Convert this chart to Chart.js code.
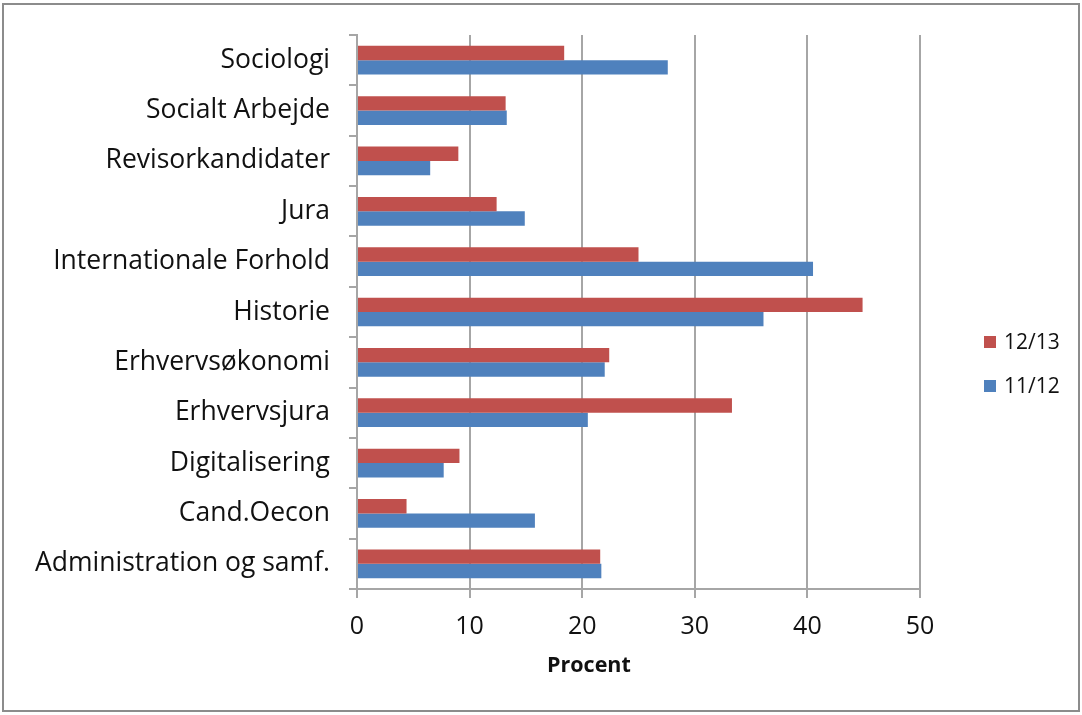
<!DOCTYPE html>
<html>
<head>
<meta charset="utf-8">
<script src="https://cdn.jsdelivr.net/npm/chart.js@4"></script>
<style>
  body { margin: 0; background: #fff; }
  #wrap { position: relative; width: 1082px; height: 715px; }
  #frame { position: absolute; left: 2px; top: 3px; width: 1078px; height: 709px; border: 2px solid #8c8c8c; box-sizing: border-box; pointer-events: none; }
  canvas { position: absolute; left: 0; top: 0; }
  .lbl { position: absolute; font-family: "Open Sans", sans-serif; color: #111; white-space: nowrap; }
  #akse { left: 547px; top: 650px; font-size: 21.5px; font-weight: bold; line-height: 28px; }
  .leg { font-size: 21px; line-height: 28px; }
  .leg span { display: inline-block; width: 12px; height: 12px; margin-right: 8px; vertical-align: 1px; }
</style>
</head>
<body>
<div id="wrap">
  <canvas id="graf" width="1082" height="715"></canvas>
  <div id="frame"></div>
  <div class="lbl" id="akse">Procent</div>
  <div class="lbl leg" style="left:984px; top:327px;"><span style="background:#C0504D"></span>12/13</div>
  <div class="lbl leg" style="left:984px; top:371px;"><span style="background:#4F81BD"></span>11/12</div>
</div>
<script>
// uddannelser, oppefra og ned
const uddannelser = [
  "Sociologi", "Socialt Arbejde", "Revisorkandidater", "Jura",
  "Internationale Forhold", "Historie", "Erhvervsøkonomi", "Erhvervsjura",
  "Digitalisering", "Cand.Oecon", "Administration og samf."
];
const aar1213 = [18.4, 13.2, 9.0, 12.4, 25.0, 44.9, 22.4, 33.3, 9.1, 4.4, 21.6];
const aar1112 = [27.6, 13.3, 6.5, 14.9, 40.5, 36.1, 22.0, 20.5, 7.7, 15.8, 21.7];
const xTicks = [0, 10, 20, 30, 40, 50];

const ctx = document.getElementById("graf").getContext("2d");
new Chart(ctx, {
  type: 'bar',
  data: {
    labels: uddannelser,
    datasets: [
      { label: '12/13', data: aar1213, backgroundColor: '#C0504D', barPercentage: 1.0, categoryPercentage: 0.57 },
      { label: '11/12', data: aar1112, backgroundColor: '#4F81BD', barPercentage: 1.0, categoryPercentage: 0.57 }
    ]
  },
  options: {
    indexAxis: 'y',
    responsive: false,
    animation: false,
    layout: { padding: { left: 0, top: 35, right: 162, bottom: 0 } },
    plugins: {
      legend: { display: false },
      tooltip: { enabled: false }
    },
    scales: {
      x: {
        min: 0,
        max: 50,
        afterBuildTicks: s => { s.ticks = xTicks.map(v => ({ value: v })); },
        afterFit: s => { s.height = 126; },
        grid: { color: '#a6a6a6', lineWidth: 2, tickLength: 9, drawTicks: true },
        border: { color: '#a6a6a6', width: 2 },
        ticks: { color: '#111', padding: 14, font: { family: 'Open Sans', size: 25 } }
      },
      y: {
        afterFit: s => { s.width = 357; },
        grid: { offset: true, drawOnChartArea: false, color: '#a6a6a6', lineWidth: 2, tickLength: 8 },
        border: { color: '#a6a6a6', width: 2 },
        ticks: { color: '#111', padding: 19, autoSkip: false, font: { family: 'Open Sans', size: 26.5 } }
      }
    }
  }
});
</script>
</body>
</html>
